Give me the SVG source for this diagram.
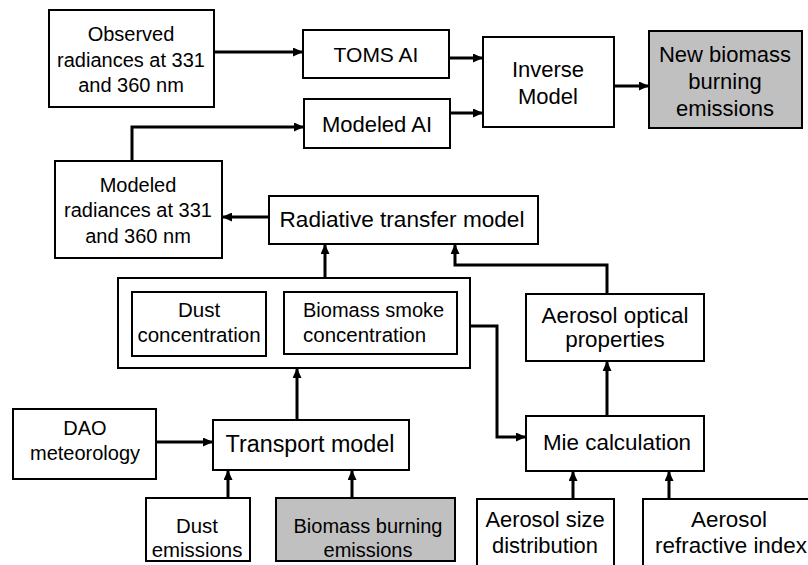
<svg xmlns="http://www.w3.org/2000/svg" width="808" height="565" viewBox="0 0 808 565">
<style>
  .box { fill: #ffffff; stroke: #000000; stroke-width: 2; }
  .gray { fill: #c0c0c0; }
  .t { font-family: "Liberation Sans", Arial, sans-serif; fill: #000000; text-anchor: middle; }
  .conn { fill: none; stroke: #000000; stroke-width: 3; marker-end: url(#arr); }
</style>
<defs>
  <marker id="arr" markerUnits="userSpaceOnUse" markerWidth="10" markerHeight="9" refX="10" refY="4.5" orient="auto">
    <path d="M0,0 L10,4.5 L0,9 z" fill="#000000"/>
  </marker>
</defs>
<rect width="808" height="565" fill="#ffffff"/>

<g id="observed">
  <rect class="box" x="49" y="10" width="165" height="97"/>
  <text class="t" font-size="20" x="131" y="41">Observed</text>
  <text class="t" font-size="20" x="131" y="67">radiances at 331</text>
  <text class="t" font-size="20" x="131" y="92">and 360 nm</text>
</g>
<g id="toms">
  <rect class="box" x="303" y="30" width="146" height="48"/>
  <text class="t" font-size="21" x="376" y="62">TOMS AI</text>
</g>
<g id="modeledai">
  <rect class="box" x="304" y="99" width="146" height="49"/>
  <text class="t" font-size="22" x="377" y="132">Modeled AI</text>
</g>
<g id="inverse">
  <rect class="box" x="483" y="37" width="131" height="90"/>
  <text class="t" font-size="22" x="548" y="77">Inverse</text>
  <text class="t" font-size="22" x="548" y="104">Model</text>
</g>
<g id="newbiomass">
  <rect class="box gray" x="649" y="31" width="153" height="97"/>
  <text class="t" font-size="22" x="725" y="62">New biomass</text>
  <text class="t" font-size="22" x="725" y="89">burning</text>
  <text class="t" font-size="22" x="725" y="116">emissions</text>
</g>
<g id="modeledrad">
  <rect class="box" x="55" y="161" width="167" height="97"/>
  <text class="t" font-size="20" x="138" y="192">Modeled</text>
  <text class="t" font-size="20" x="138" y="217">radiances at 331</text>
  <text class="t" font-size="20" x="138" y="243">and 360 nm</text>
</g>
<g id="radiative">
  <rect class="box" x="269" y="196" width="269" height="48"/>
  <text class="t" font-size="22.6" x="402" y="227">Radiative transfer model</text>
</g>
<g id="concentrations">
  <rect class="box" x="118" y="278" width="352" height="90"/>
  <g id="dustconc">
    <rect class="box" x="132" y="292" width="134" height="64"/>
    <text class="t" font-size="20.5" x="199" y="317">Dust</text>
    <text class="t" font-size="20.5" x="199" y="342">concentration</text>
  </g>
  <g id="smokeconc">
    <rect class="box" x="284" y="292" width="173" height="62"/>
    <text class="t" font-size="20" x="303" y="317" style="text-anchor:start">Biomass smoke</text>
    <text class="t" font-size="20.5" x="303" y="342" style="text-anchor:start">concentration</text>
  </g>
</g>
<g id="aerosoloptical">
  <rect class="box" x="526" y="294" width="178" height="67"/>
  <text class="t" font-size="22.4" x="615" y="323">Aerosol optical</text>
  <text class="t" font-size="22.4" x="615" y="347">properties</text>
</g>
<g id="mie">
  <rect class="box" x="526" y="416" width="178" height="55"/>
  <text class="t" font-size="22.4" x="617" y="450">Mie calculation</text>
</g>
<g id="dao">
  <rect class="box" x="13" y="409" width="143" height="70"/>
  <text class="t" font-size="20" x="85" y="435">DAO</text>
  <text class="t" font-size="20" x="85" y="460">meteorology</text>
</g>
<g id="transport">
  <rect class="box" x="213" y="420" width="196" height="50"/>
  <text class="t" font-size="23.3" x="310" y="452">Transport model</text>
</g>
<g id="dustemis">
  <rect class="box" x="146" y="498" width="104" height="63"/>
  <text class="t" font-size="20.4" x="197" y="533">Dust</text>
  <text class="t" font-size="20.4" x="197" y="557">emissions</text>
</g>
<g id="bbemis">
  <rect class="box gray" x="276" y="498" width="179" height="63"/>
  <text class="t" font-size="20" x="368" y="533">Biomass burning</text>
  <text class="t" font-size="20" x="368" y="557">emissions</text>
</g>
<g id="sizedist">
  <rect class="box" x="477" y="499" width="137" height="80"/>
  <text class="t" font-size="21.9" x="545" y="527">Aerosol size</text>
  <text class="t" font-size="21.9" x="545" y="553">distribution</text>
</g>
<g id="refractive">
  <rect class="box" x="643" y="499" width="175" height="80"/>
  <text class="t" font-size="22.4" x="729" y="527">Aerosol</text>
  <text class="t" font-size="22.4" x="731" y="553">refractive index</text>
</g>

<g id="connectors">
  <path class="conn" d="M214,52 H303"/>
  <path class="conn" d="M449,58 H483"/>
  <path class="conn" d="M450,113 H483"/>
  <path class="conn" d="M132,161 V127 H304"/>
  <path class="conn" d="M614,86 H649"/>
  <path class="conn" d="M269,217 H222"/>
  <path class="conn" d="M325,278 V244"/>
  <path class="conn" d="M607,294 V265 H455 V244"/>
  <path class="conn" d="M470,326 H497 V437 H526"/>
  <path class="conn" d="M607,416 V361"/>
  <path class="conn" d="M297,420 V368"/>
  <path class="conn" d="M156,442 H213"/>
  <path class="conn" d="M228,498 V470"/>
  <path class="conn" d="M352,498 V470"/>
  <path class="conn" d="M573,499 V471"/>
  <path class="conn" d="M669,499 V471"/>
</g>
</svg>
